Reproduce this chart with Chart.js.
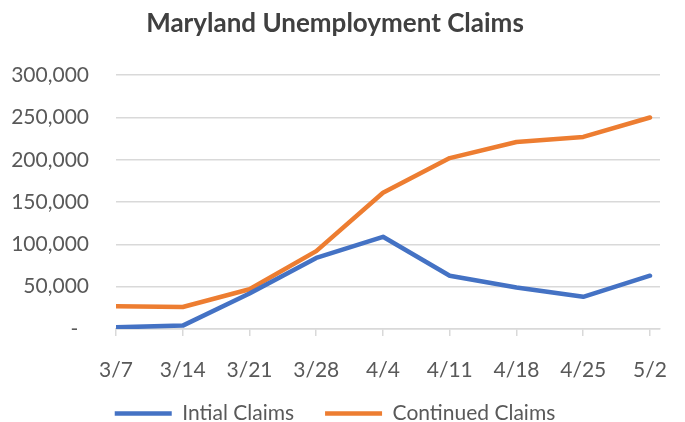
<!DOCTYPE html>
<html>
<head>
<meta charset="utf-8">
<script src="https://cdn.jsdelivr.net/npm/chart.js@4"></script>
<style>
  body { margin: 0; background: #fff; }
  #wrap { width: 685px; height: 422px; }
</style>
</head>
<body>
<div id="wrap"><canvas id="claimsChart"></canvas></div>
<script>
// weekly claims
const weeks = ['3/7', '3/14', '3/21', '3/28', '4/4', '4/11', '4/18', '4/25', '5/2'];
const initialClaims = [2000, 4000, 42000, 84000, 109000, 63000, 49000, 38000, 63000];
const continuedClaims = [27000, 26000, 47000, 92000, 161000, 202000, 221000, 227000, 250000];
const yTicks = [0, 50000, 100000, 150000, 200000, 250000, 300000];

const FONT = "Lato, 'Liberation Sans', sans-serif";
const textColor = '#595959';
const gridColor = '#D9D9D9';

// x as a linear scale so the plot area runs a bit past the last week, like Excel
const toPoints = (vals) => vals.map((v, i) => ({ x: i, y: v }));

const ctx = document.getElementById('claimsChart').getContext('2d');
new Chart(ctx, {
    type: 'line',
    data: {
        datasets: [
            {
                label: 'Intial Claims',
                data: toPoints(initialClaims),
                borderColor: '#4472C4',
                backgroundColor: '#4472C4',
                borderWidth: 4.5,
                pointRadius: 0,
                borderCapStyle: 'round',
                borderJoinStyle: 'round',
                fill: false,
            },
            {
                label: 'Continued Claims',
                data: toPoints(continuedClaims),
                borderColor: '#ED7D31',
                backgroundColor: '#ED7D31',
                borderWidth: 4.5,
                pointRadius: 0,
                borderCapStyle: 'round',
                borderJoinStyle: 'round',
                fill: false,
            },
        ],
    },
    options: {
        responsive: true,
        maintainAspectRatio: false,
        animation: false,
        layout: { padding: { left: 10, right: 25, top: 8, bottom: -12 } },
        scales: {
            x: {
                type: 'linear',
                min: 0,
                max: weeks.length - 1 + 0.15,
                afterBuildTicks: (scale) => {
                    scale.ticks = weeks.map((w, i) => ({ value: i }));
                },
                // labels hang below the axis box so the legend can sit close to them
                afterFit: (scale) => {
                    scale.height = 43;
                },
                grid: {
                    drawOnChartArea: false,
                    color: gridColor,
                    lineWidth: 1.5,
                    tickLength: 7,
                },
                border: { color: gridColor, width: 1.5 },
                ticks: {
                    autoSkip: false,
                    maxRotation: 0,
                    mirror: true,
                    padding: -53.6,
                    color: textColor,
                    font: { family: FONT, size: 21 },
                    callback: (v) => weeks[v],
                },
            },
            y: {
                min: 0,
                max: 300000,
                afterBuildTicks: (scale) => {
                    scale.ticks = yTicks.map((v) => ({ value: v }));
                },
                afterFit: (scale) => {
                    scale.width = 106;
                },
                grid: { color: gridColor, lineWidth: 1.5, drawTicks: false },
                border: { display: false },
                ticks: {
                    padding: 27,
                    color: textColor,
                    font: { family: FONT, size: 21 },
                    callback: (v) => (v === 0 ? '-  ' : v.toLocaleString('en-US')),
                },
            },
        },
        plugins: {
            title: {
                display: true,
                text: 'Maryland Unemployment Claims',
                color: '#404040',
                font: { family: FONT, size: 26, weight: 'bold' },
                padding: { top: 0, bottom: 36 },
            },
            legend: {
                position: 'bottom',
                labels: {
                    usePointStyle: true,
                    pointStyle: 'line',
                    pointStyleWidth: 57,
                    padding: 31,
                    color: textColor,
                    font: { family: FONT, size: 21 },
                },
            },
            tooltip: { enabled: false },
        },
    },
});
</script>
</body>
</html>
